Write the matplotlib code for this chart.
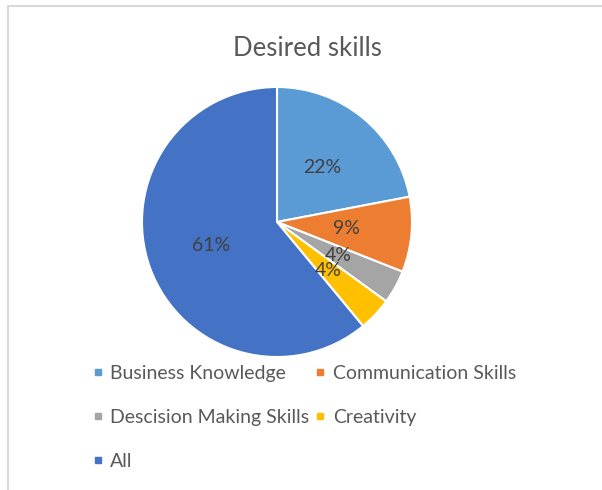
import matplotlib
matplotlib.use("Agg")
import matplotlib.pyplot as plt
from matplotlib.patches import Rectangle
from matplotlib.lines import Line2D

categories = ["Business Knowledge", "Communication Skills", "Descision Making Skills", "Creativity", "All"]
values = [22, 9, 4, 4, 61]
colors = ["#5B9BD5", "#ED7D31", "#A5A5A5", "#FFC000", "#4472C4"]
title = "Desired skills"

plt.rcParams['font.family'] = ['Lato', 'DejaVu Sans']

W, H = 602, 490
fig = plt.figure(figsize=(W/100, H/100), dpi=100)
fig.patch.set_facecolor("white")

# light chart border
fig.add_artist(Rectangle((8/W, -0.1), 1.2, 1 - 6/H + 0.1, transform=fig.transFigure,
                         fill=False, edgecolor="#d9d9d9", linewidth=1.5))

cx, cy, r = 277, 222, 135
ax = fig.add_axes([(cx - r)/W, (H - cy - r)/H, 2*r/W, 2*r/H])
wedges, texts, autotexts = ax.pie(values, colors=colors, startangle=90, counterclock=False,
                                  autopct=lambda p: f"{p:.0f}%", pctdistance=0.52,
                                  wedgeprops=dict(edgecolor="white", linewidth=1.5),
                                  textprops=dict(color="#404040", fontsize=14))
ax.set_xlim(-1, 1)
ax.set_ylim(-1, 1)
ax.set_aspect("equal")
ax.axis("off")

fig.text(307/W, 1 - 49/H, title, ha="center", va="center", fontsize=18.5, color="#595959")

handles = [Line2D([], [], marker="s", linestyle="none", markersize=5,
                  markerfacecolor=c, markeredgecolor=c) for c in colors]
order = [0, 2, 4, 1, 3]
leg = fig.legend([handles[i] for i in order], [categories[i] for i in order],
                 ncol=2, loc="upper left", bbox_to_anchor=(83/W, 1 - 355/H),
                 frameon=False, fontsize=14, labelspacing=1.4, columnspacing=0.3,
                 handlelength=0.5, handletextpad=0.4, borderpad=0)
for t in leg.get_texts():
    t.set_color("#595959")

fig.savefig("out.png", dpi=100)
